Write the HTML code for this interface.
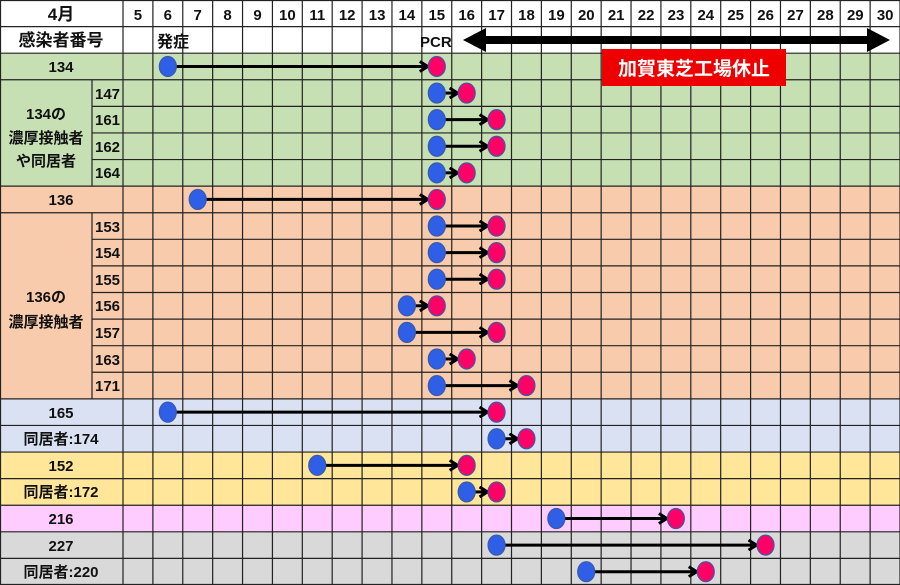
<!DOCTYPE html>
<html><head><meta charset="utf-8">
<style>
html,body{margin:0;padding:0;background:#fff;}
svg{display:block;}
text{font-family:"Liberation Sans Narrow","Liberation Sans","Noto Sans CJK JP",sans-serif;font-weight:bold;fill:#111;}
</style></head>
<body>
<svg id="s" width="900" height="585" viewBox="0 0 900 585" xmlns="http://www.w3.org/2000/svg">
<defs>
<marker id="ah" markerWidth="12" markerHeight="12" refX="9" refY="6" orient="auto" markerUnits="userSpaceOnUse">
<polyline points="1,1 9,6 1,11" fill="none" stroke="#000" stroke-width="3"/>
</marker>
</defs>
<rect x="0" y="0" width="900" height="53.2" fill="#fff"/>
<rect x="0" y="53.2" width="900" height="132.9" fill="#c6e0b4"/>
<rect x="0" y="186.1" width="900" height="212.8" fill="#f8cbad"/>
<rect x="0" y="398.9" width="900" height="53.1" fill="#d9e1f2"/>
<rect x="0" y="452" width="900" height="53.2" fill="#ffe699"/>
<rect x="0" y="505.2" width="900" height="26.6" fill="#ffccff"/>
<rect x="0" y="531.8" width="900" height="53.2" fill="#d9d9d9"/>
<g id="grid" stroke="#222" stroke-width="1.2"></g>
<g id="arrows"></g>
<g font-size="16" text-anchor="middle">
<text x="61" y="20" font-size="17">4月</text>
<text x="61" y="46" font-size="17">感染者番号</text>
</g>
<g id="days" font-size="15" text-anchor="middle">
<text x="137.9" y="20">5</text><text x="167.8" y="20">6</text><text x="197.7" y="20">7</text><text x="227.6" y="20">8</text><text x="257.5" y="20">9</text><text x="287.4" y="20">10</text><text x="317.3" y="20">11</text><text x="347.2" y="20">12</text><text x="377.1" y="20">13</text><text x="406.9" y="20">14</text><text x="436.8" y="20">15</text><text x="466.7" y="20">16</text><text x="496.6" y="20">17</text><text x="526.5" y="20">18</text><text x="556.4" y="20">19</text><text x="586.3" y="20">20</text><text x="616.2" y="20">21</text><text x="646.1" y="20">22</text><text x="676" y="20">23</text><text x="705.8" y="20">24</text><text x="735.7" y="20">25</text><text x="765.6" y="20">26</text><text x="795.5" y="20">27</text><text x="825.4" y="20">28</text><text x="855.3" y="20">29</text><text x="885.2" y="20">30</text>
</g>
<text x="157" y="47" font-size="16">発症</text>
<text x="420" y="47" font-size="15">PCR</text>
<polygon points="463,40 486,28 486,36 867,36 867,28 890,40 867,52 867,44 486,44 486,52" fill="#000"/>
<rect x="602" y="49" width="184" height="37" fill="#ee0000"/>
<text x="694" y="75" font-size="19" style="fill:#fff" text-anchor="middle">加賀東芝工場休止</text>
<g font-size="15" text-anchor="middle">
<text x="61" y="72">134</text>
<text x="107.5" y="99">147</text>
<text x="107.5" y="125">161</text>
<text x="107.5" y="152">162</text>
<text x="107.5" y="178">164</text>
<text x="46" y="119">134の</text>
<text x="46" y="143">濃厚接触者</text>
<text x="46" y="166">や同居者</text>
<text x="61" y="205">136</text>
<text x="107.5" y="232">153</text>
<text x="107.5" y="258">154</text>
<text x="107.5" y="285">155</text>
<text x="107.5" y="311">156</text>
<text x="107.5" y="338">157</text>
<text x="107.5" y="365">163</text>
<text x="107.5" y="391">171</text>
<text x="46" y="302">136の</text>
<text x="46" y="327">濃厚接触者</text>
<text x="61" y="418">165</text>
<text x="61" y="444">同居者:174</text>
<text x="61" y="471">152</text>
<text x="61" y="497">同居者:172</text>
<text x="61" y="524">216</text>
<text x="61" y="551">227</text>
<text x="61" y="577">同居者:220</text>
</g>
</svg>
<script>
(function(){
var NS="http://www.w3.org/2000/svg";
var g=document.getElementById('grid'),a=document.getElementById('arrows');
function X(k){return 123+k*29.885;}
function Y(i){return i*585/22;}
function L(x1,y1,x2,y2,p){var l=document.createElementNS(NS,'line');l.setAttribute('x1',x1);l.setAttribute('y1',y1);l.setAttribute('x2',x2);l.setAttribute('y2',y2);(p||g).appendChild(l);return l;}
for(var k=0;k<=26;k++)L(X(k),0,X(k),585);
L(0.5,0,0.5,585);
L(92,Y(3),92,Y(7));L(92,Y(8),92,Y(15));
for(var i=0;i<=22;i++){
  var y=Y(i);if(i==22)y=584.5;if(i==0)y=0.5;
  var inner=(i>=4&&i<=6)||(i>=9&&i<=14);
  L(inner?92:0,y,900,y);
}
var rows=[[6,15],[15,16],[15,17],[15,17],[15,16],[7,15],[15,17],[15,17],[15,17],[14,15],[14,17],[15,16],[15,18],[6,17],[17,18],[11,16],[16,17],[19,23],[17,26],[20,24]];
function C(d){return 123+(d-4.5)*29.885;}
function E(cx,cy,f){var e=document.createElementNS(NS,'ellipse');e.setAttribute('cx',cx);e.setAttribute('cy',cy);e.setAttribute('rx',8.5);e.setAttribute('ry',10);e.setAttribute('fill',f);e.setAttribute('stroke','#3a5aa8');e.setAttribute('stroke-width',1.2);a.appendChild(e);}
rows.forEach(function(r,i){
  var cy=Y(2)+(i+0.5)*585/22,x1=C(r[0]),x2=C(r[1]);
  var l=L(x1+7,cy,x2-9,cy,a);l.setAttribute('stroke','#000');l.setAttribute('stroke-width',3);l.setAttribute('marker-end','url(#ah)');
  E(x1,cy,'#2f5fe6');E(x2,cy,'#ff0066');
});
})();
</script>
</body></html>
